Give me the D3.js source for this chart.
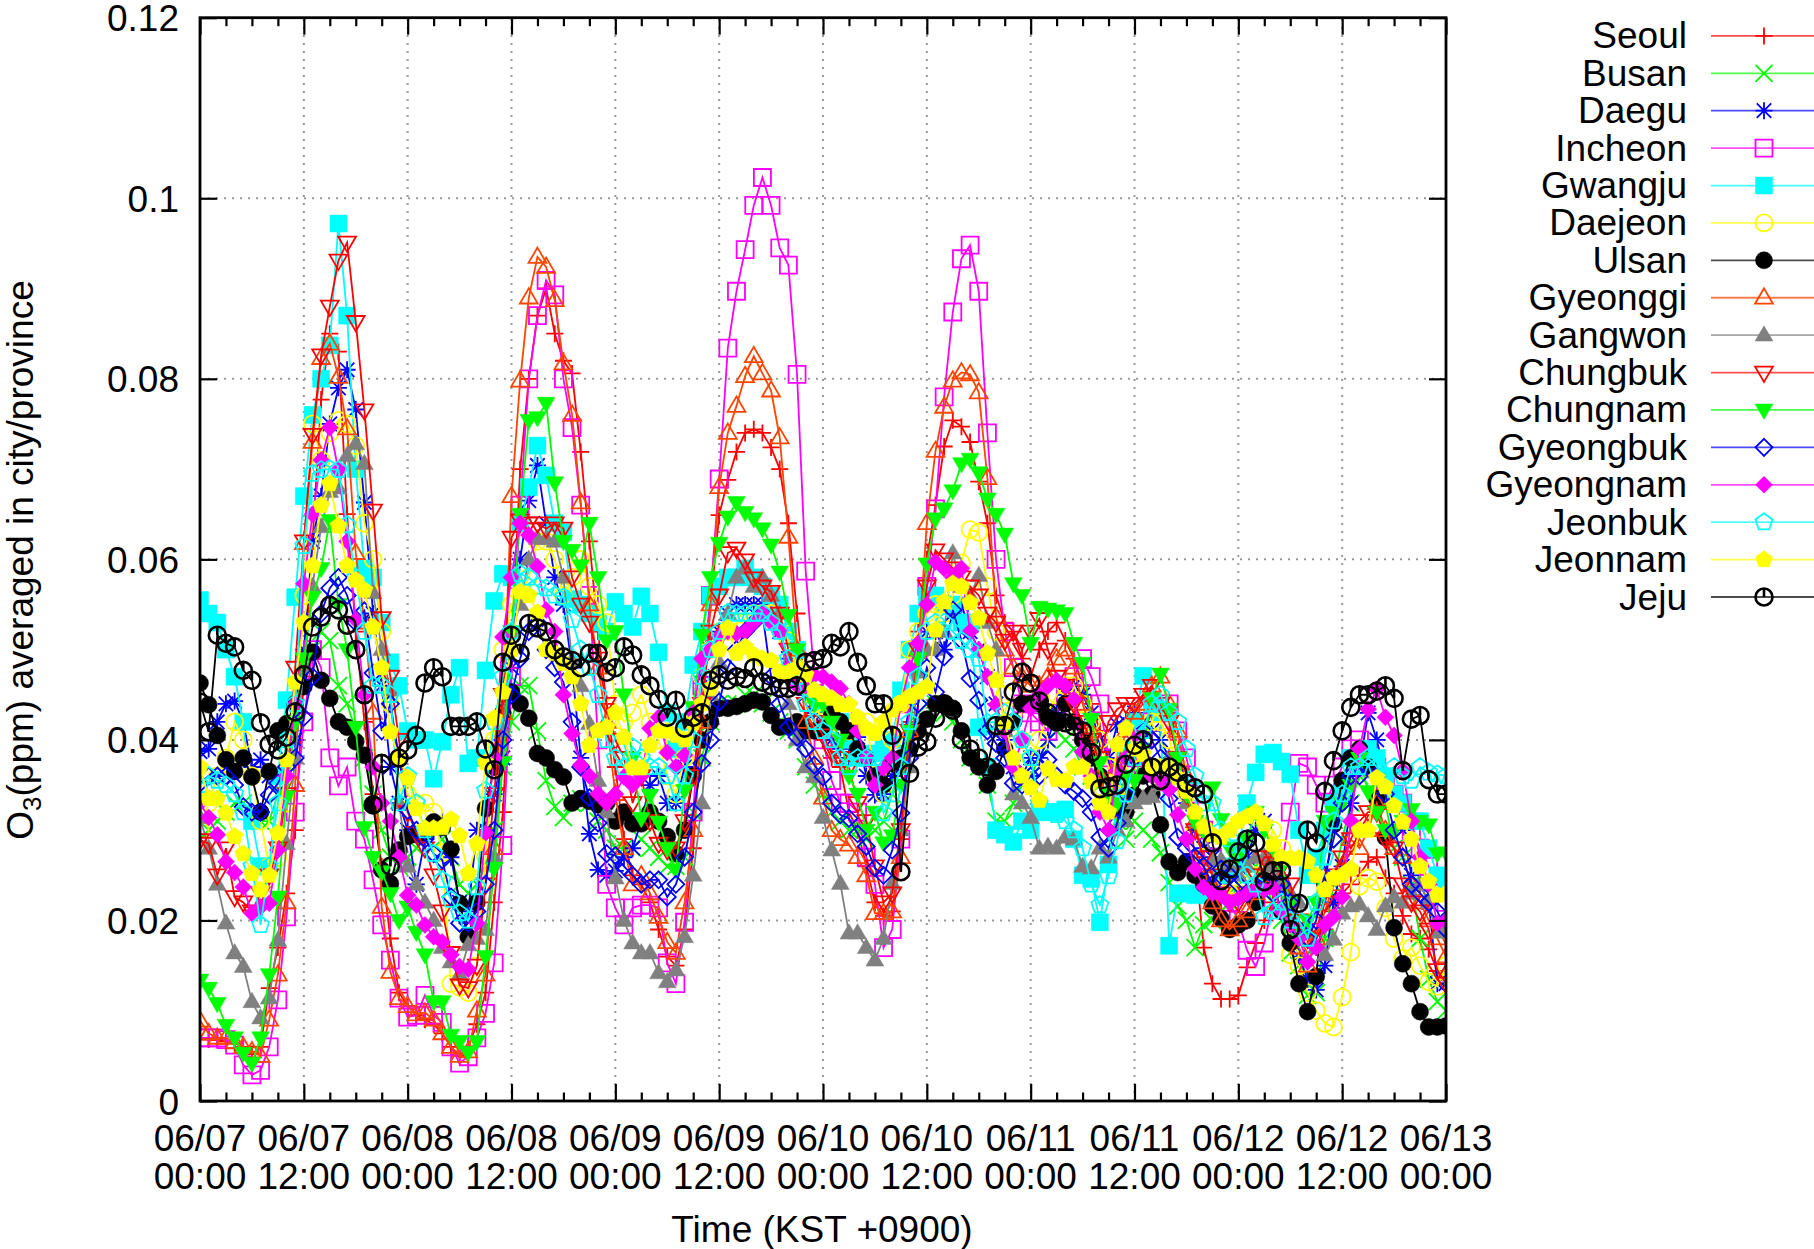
<!DOCTYPE html>
<html>
<head>
<meta charset="utf-8">
<script src="https://cdn.jsdelivr.net/npm/d3@7"></script>
<style>
  body { margin: 0; background: #fff; }
  text { font-family: "Liberation Sans", Arial, sans-serif; font-size: 37px; fill: #000; }
</style>
</head>
<body>
<div class="chart"></div>
<script>
// hourly values in ppb, 06/07 00:00 to 06/13 00:00
const seoul = [
  7,6.8,6.8,6.6,6.4,6,5.2,6,12.5,17,23,30,
  47,62,77.7,85,83,65,52,42,34,26,18,12,
  10.5,9.5,9,8.5,7.5,6,5,6,8.5,12,22,32,
  50,70,80,87,90,85,82,80.6,71.9,62,52,44,
  37,29,25,24,22,19,16,15,19,28,42,55,
  64.9,68.8,71.9,74,74.4,74,72.4,70,64,54,45,43,
  40,38,37,32,30,26,22,20.5,21,29,42,52,
  60,66,72.5,75.4,74.7,73,68.6,64,56,53,52,49,
  47,50,52,53,51,49,46,44,41,38,32,34,
  38,41,43,44,43,40,34,27,17,13,11.3,11.3,
  11.7,14.8,17.5,20,22,24,22,19,18,17,19,21,
  23,24,25,26.5,27,24.7,23,20.5,18.5,18,16.8,14.4,
  13]
const busan = [
  29,30,31,32,33,33,32,31,31,34,38,43,
  47,50,52,51,46,44,41,38,34,30,27,26,
  27,28,30,30,29,27,24,23,24,26,30,37,
  42,46,46,41,35.5,32.6,31.4,33,33.5,33,31,30,
  28,28,28,29,28,27,26,26,27,32,38,42,
  44,44,44,45,45,44,43,42,41,40,37,35,
  34,32,31,30,30,29,30,31,34,38,41,43,
  44,44,43,42,40,38,37,35,31,31,33,35,
  36,38,40,41,40,39,37,36,35,33,31,29,
  31,30,29,27.5,24.2,21.6,20,17,19.5,20,21,22,
  24,25,26,24,22,20,16.4,15,11.7,12,18,24,
  29,33,36,37,35,33,28,27,24,18,13.5,11,
  10]
const daegu = [
  38.7,39,42,44,44.3,42,37,37.8,36,36,38,40,
  50,62,67,75,79,81,76.6,66.3,54,46,37,33,
  30,24,29,30,31,27,22,21,30,30,34,38,
  48,60,66.5,70.4,64,58,55,48,38,29.6,25.6,25,
  25.5,27,28,31,35,36,33,33,37,42,47,50,
  52,54,55,55,55,55,54,52,49,47,45,43,
  41,40,39,38,40.3,36,33.9,34,36,38,44,50,
  52,52,50,54,55,52,50,47,44,40,37,36,
  38,38,40,43,45,46,45,43,40,38,41.7,42,
  43,42,41,40,38,36,33,30,28,27,25,25,
  26,27,30,31,27,24,20,16,13.5,12.3,15,22,
  26,33,37,43,40,36,34,30,25,24,22,13,
  13]
const incheon = [
  7,7,7,6.8,6.2,4,2.9,3.4,6,11.2,20.4,32,
  42,50,48,38,34.9,37,31,29,24.5,19.5,15.6,11.4,
  9.3,9.5,11.7,9.5,8.7,6,4.2,4.9,7,9.7,15.3,28.3,
  47,66,80,87,90.9,89.3,80,74.6,66,56,40,24,
  21.4,19.5,21.4,21.7,21.7,21.4,15.3,13,19.8,32,46,56,
  68.9,83.4,89.7,94.3,99.2,102.3,99.2,94.5,92.6,80.5,58.7,47,
  40,35.5,33,33,32,27,24,17,19,29,44,50,
  57,65.6,78,87.4,93.3,94.8,89.7,74,60,52,48,44,
  43,42,41,43,45,47,49,47,44,38,36,37,
  38,40,42,43,44,41,38,34,30,27,25,22,
  20,16.7,14.9,17.5,22,26,32,37.4,37,35,33,35,
  37,39,40,37,37,35,34,33,30,28,26,24,
  22]
const gwangju = [
  55.5,54,53,50,47,42,31,26,26,36,44.4,55.8,
  67,76,80,83.7,97.2,87,70,59,58,53,48.6,46,
  41,40,40,35.7,39.8,45,48,37.4,38,47.7,55.4,58.4,
  58,64,68,72.6,69.3,64,63,55.6,55,54,53,52,
  55.3,54,52.5,55.9,54,49.7,43,39,42,48.3,52,56,
  57,58,58,59,58,57,56,55,52,50,47,45,
  44,43,42,40,38,38,38.5,39,40,45.5,50,54,
  56,56,55,55,53,53,41.4,37,30,29.5,28.7,31,
  30,32,32,32,32.3,29,25,24.6,19.8,26.2,33,39,
  42,47.1,44,43,17.2,23,23,22.8,23,23,25,26,
  28,33,36.4,38.4,38.6,37.6,36.2,30,25,27,30,33,
  35,38,37,39,38,36,34,33,31,31,28,25,
  24]
const daejeon = [
  30,33,36,38,42,40,36,31,26,27,33,42,
  56,75,71,74,75.4,75,72.6,64,60,52,44,38,
  34,33,33,32,27.5,13,12.6,12,15,27,40,50,
  55,56,58,62,62,60,56,58,60,57,55,53,
  44,42,43,45,42,40,36,34,38,42,47,50,
  52,52,53,53,54,54,54,53,51,48,46,44,
  42,42,41,41,42,42,36,34,40,44,50,52,
  54,55,54,56,59.6,63.3,63,57,52,45,43,40,
  38,40,43,45,46,46,44,42,40,37,34,34,
  37,40,42,42,40,37,34,30,27,25,23,23,
  23,24,25,27,30,28,16.2,15,12,10,8.6,8.2,
  11.5,16.5,23.8,24.7,24.3,21.4,18,15.8,17,15,13.2,12.7,
  15]
const ulsan = [
  46.3,43.9,40.5,37.8,36.5,38,35.9,32,36.5,41,41.8,44,
  45.9,49.7,46.6,44.6,42,41.4,39.8,38.3,32.8,25.6,24.1,27.8,
  29.3,29.5,29.8,30.9,30.3,27.9,21.9,18.2,22,32.4,37,43,
  45.3,44,42.4,38.5,38,36.7,35.9,33,33.5,33.2,32.8,33,
  31,32,30.7,30.7,32,31,29.3,27.4,30,36,40,42,
  43.5,43.5,43.7,44,44.4,44.2,42.7,41.4,41.5,42,41,41,
  41.3,43,42,41,39,38,36,35,37.4,38,39,41,
  42.3,44,44,43.5,41,38,37,35,36.5,39,42,44,
  44,44,42.5,42,44,42,40,38,36,33,32.5,32,
  33.9,36,34,30.6,26.5,25.3,26.5,25,24,21.6,20.2,19,
  19.5,20,22,24.5,24,21,17.5,13,9.9,13.8,24,30.6,
  35.5,38,39,37,33.5,29.2,19.2,15.2,13,9.9,8.2,8.2,
  8.3]
const gyeonggi = [
  8.9,7.5,7,7,6.5,6,5.5,5,9,14,22,35,
  61.8,73,82.3,83.9,80.2,74.5,60.7,53,43,21.5,14.3,11.4,
  10.5,9.6,9.8,9,7.5,6,5,5.5,10,14,28,43,
  67,79.8,89,93.5,92.4,88.7,81.7,76,66.3,55,48,42,
  34,28,24,25,23,20.4,17.6,16.4,22,30,42,55,
  68,74,77,80.3,82.5,80.6,78.7,73.5,62.5,50,42,38,
  33.6,30,29,28.4,27,25,20.8,20.8,21,27,41,50,
  64,72,76.9,79.8,80.7,80.5,78.5,69,53.6,50,48,47,
  46,46,47,49,50,48,44,41,36,33,37,41,
  43,44,46,47,44,41,36,31,26,22,20,19,
  20,21,23,25,27,24,21,17,15,18,21,24,
  26,29,28,30,33,30,28,27,24,22,20,18,
  16]
const gangwon = [
  31.4,28,24,19.7,16.4,14.9,11,9.2,11.4,17.8,28.5,38,
  48,57,63.6,67.5,67.9,71.5,72.8,70.6,56.3,50,45.5,33,
  26,24,22,20,17,15.4,14,17.3,18,19,27,41,
  52,55,60,62.3,62.3,62,58,48.8,46,41.8,35.5,32,
  24.7,20,17.5,16.4,16.4,14.2,13.2,14.5,18.2,25,33,45,
  48.6,54,58,59,57,58,56,54,44,40,37,35.9,
  31.4,27.8,24.1,18.6,18.6,17,15.6,18,24.1,30,37,47.5,
  50,50,52,60.7,57,56,58.2,53,50,41,34,33,
  31.4,28,28.2,28,29.2,29,26,25.8,28,27,30,31,
  33,33.5,33.7,35,38,36,33,31,30,26.7,26.7,26,
  25,26,27,27,26,24,23,22,19,17,16.2,17.9,
  20.8,21.6,21.8,20.5,19,21.6,22.6,22,23,24,22,18.7,
  19]
const chungbuk = [
  28.9,28.5,25,28,22.6,22,21,23,25,28,34,48,
  62,73.8,82.6,88,93.1,95.1,86.3,76.5,65.4,53.5,47,40,
  32,29.7,28,25,21,16.4,12.8,12.5,15,24,34,45,
  62.4,64.3,64,64,63.4,64,63.4,58,55,53,49,44,
  40,38,33,36,31,28.5,27.8,28,31,36,44,52,
  56,60.7,61.2,59.9,57.9,57,56.4,54,50,47,44,42,
  40.5,38.6,38,37,33,31,26,22,23,30,41,50,
  57,61,60,59,58,57,56,54,53,51,52,50,
  52,53.4,50,47,46,44,42,40,38,42,43.4,44,
  44,45,46,44,42,38,34,30,27,25,23,22,
  22,23,25,27,27,26,24,20,18,19,22,25,
  27,29,31,32,32,29,28,24,22,21,19,14.5,
  13]
const chungnam = [
  13.4,12.5,10.8,8.4,7,5.3,4.2,7,14,22.6,33.7,42,
  49,55.8,59,64.3,55,50,41.4,30.3,27,25.4,23,20,
  21.5,18.7,16.2,11,11,7.3,6.6,5.4,6.6,16,25.8,37.5,
  52,65,75.4,75.7,77.3,68.5,62,61,59.3,64,58,51,
  52,45,38,31.3,33.9,30.9,28,25.6,34.4,43.6,51.6,58,
  61.8,64.7,66.3,65.2,64.5,63.4,61.6,58.6,53.8,50,46,44,
  44,42,40,36,34,30,32,28.6,29.4,35,41,49,
  59.5,64.5,65.6,67.6,70.6,71.1,69.6,66.7,65,62.8,57.3,56,
  50.7,54.7,54.5,54.3,54,50.7,48.5,42.3,37.5,34,33,36,
  35.5,39,44.6,47.3,43.4,38,34,31,30,34.7,31.2,28,
  27,29,32,30,28,26,22,18,20,22,31,32,
  33,35,38,34.3,32,30,30,31,32.3,31,30.6,27.4,
  27.5]
const gyeongbuk = [
  35.2,36,36,36,35,32.6,32,32,33.9,35.2,37,38,
  42.5,47,54,56.8,58,56,53,54.3,47.4,41,44,38,
  32.2,30,29,27.4,26.7,22.6,19.7,19.7,21,24,30,40,
  45,49,52,53,50,48,46.4,42,37,33.6,30.8,27.4,
  27.2,26,25,24,24.5,24.5,22.6,24,27,32,37.4,40,
  44.2,48,50,52,53,54,47,44,41.4,40.3,39,37.2,
  35.9,33,31.7,31.3,29.6,28.2,25.8,25,27.8,31.9,38,44,
  48,45.3,49.2,54.4,51,46.8,44.4,41,39.6,38,35.2,35,
  36,36,37.8,36,35,34.3,33.5,32,29.2,28,30.8,34,
  38,41,40,38,33.5,29.2,28,27,26,24,25.7,25,
  24,23,24,24,23,24,22,19,18,20,25,29,
  33,36,36,37,36,34,30,27,24,23,22,21,
  19]
const gyeongnam = [
  33,31.4,29.5,26.5,25.3,23.7,20.8,21.5,21.9,27.8,36,44,
  57.3,65,71,74.6,69.9,62,53.3,45,37,33,31,27,
  22.8,21.7,19.5,18.2,17.6,16.2,14.9,14.6,19.7,29.7,38,51.4,
  58,64,62.7,59.2,54.4,52,45,40.7,37.2,36,34,33,
  34,35.9,35,36,41.3,42.5,38.6,37,38.3,43,49,50,
  51.4,52,51.8,52,53,54,53,52,48,46,46,47.2,
  47,46.4,45.7,44,41,38,35,36.9,38,44,48,50.7,
  55,59.7,59,58,59,52,50,47,43.9,41,37,40,
  43.5,45,46,46.6,46,44.5,38.7,36,32,30,36.6,38,
  40.5,38,36,35.6,34.5,31.7,29,25.7,23.7,23,22.8,22,
  22.4,23,23.4,23.4,23.6,21,19.5,18,15.4,17,19.5,20.4,
  22.6,31,39,43.4,45.6,42.5,40.5,36.6,31,27,24,19.7,
  20]
const jeonbuk = [
  35,36,35.5,35,34,32,26,19.5,26,33,40,44,
  61.5,69.5,69.9,70,69.9,63.8,58,52,46,46,45,33,
  36,33,30,27.4,24.5,22.3,20.8,20,23.7,34.4,42,47,
  52,58.4,58,57,56.8,56,55.8,53.3,50,48,45,40,
  38,37,39.2,38,37,37,36,33,36,40,47,50,
  52,54.1,54,54,54,54,53,52,49,47,44,42,
  41,40,38,37,38,38,38,31.9,34,37,42,47,
  52,53,53,52,51,50,49,41.9,42,43,42,40,
  38,33,32,31.7,31,30,28,24,21.7,24.9,28.8,34,
  38,41,44,45,43,42,39,36,33,33,30,29,
  27,25,24,20.4,21,22,20,20,18,22,27,31,
  34,37,37,38,37,36,37,36,35.5,37,36.4,36.2,
  36]
const jeonnam = [
  37,33.5,33.5,31.9,29.3,27.4,25.2,23.4,25,29.7,37.8,46.4,
  53,59.3,66,68.4,63.7,59.3,57.7,56.6,52.5,48,40.9,38,
  35.8,32.4,30.2,30.2,30.3,31.2,29.4,25.2,28.5,37.5,42.4,45.3,
  50,56.4,56,54.1,50,49.6,48.5,47,44,39.4,41,41.4,
  43,40.3,36.9,36.9,39.4,41,41,40.5,40,41.9,44,45.7,
  50,52.4,49.6,50.3,49.4,49,48.8,47.5,47.5,48,47.2,45.5,
  45,44.6,43.9,43.9,42.5,41.3,40.7,42,43.3,44,44.8,45.3,
  45.9,52.2,55.3,57.3,57,55.2,53.5,49.6,46.6,42,38,36,
  34.7,33.3,36.8,35.6,35.5,37,37,35.4,33,32,39.5,41.3,
  39,38.4,37,37,37,35.8,34.3,32,30.4,29.5,29.2,30,
  31,31.5,32,30.7,28.4,27,26.9,26.9,26.5,25,23.4,24.7,
  25,25.7,30,30,35.8,34.8,32.7,30.9,29,26,24.3,22.8,
  23]
const jeju = [
  44.2,40.9,51.6,50.7,50.3,47.7,46.6,41.9,39.5,38.9,40.3,43.1,
  47.2,52.5,53.6,54.9,54.4,52.7,50,45,32.8,37.4,26,38,
  38.9,40.5,46.3,48,47,41.5,41.5,41.5,42,39,36.7,48.6,
  51.6,49.6,52.9,52.4,52,50,49.2,48.8,48,49.6,49.6,47.5,
  48,50.3,49.4,47.2,46,44.5,42.5,44.4,41.3,42.5,43,46.6,
  47.2,46.6,47,46.8,48,46.4,46,45.7,45.7,46,48.6,48.8,
  49,50.7,50.3,52,48.6,46,44,44,40.5,25.4,36.3,39.2,
  39.8,42.4,44,43.3,40,39,38,37,41.6,41.6,45.3,47.5,
  46.3,44.3,43,42,41.9,41.5,41,38.6,34.6,34.8,35,37.3,
  39.4,40,37,35.5,37,36.4,35.2,34.7,34,28.6,24.4,25.7,
  27.6,29,28.6,24.3,25.5,25.5,19,21.9,30,28.6,34.3,37.7,
  41,43.6,45,45,45.4,46,44.6,36.6,42.3,42.7,35.6,34,
  34]

const seriesNames = ['Seoul', 'Busan', 'Daegu', 'Incheon', 'Gwangju', 'Daejeon', 'Ulsan', 'Gyeonggi', 'Gangwon', 'Chungbuk', 'Chungnam', 'Gyeongbuk', 'Gyeongnam', 'Jeonbuk', 'Jeonnam', 'Jeju']
const seriesValues = [seoul, busan, daegu, incheon, gwangju, daejeon, ulsan, gyeonggi, gangwon, chungbuk, chungnam, gyeongbuk, gyeongnam, jeonbuk, jeonnam, jeju]
const seriesColors = ['#ff0000', '#00ff00', '#0000ff', '#ff00ff', '#00ffff', '#ffff00', '#000000', '#ff4500', '#808080', '#ff0000', '#00ff00', '#0000ff', '#ff00ff', '#00ffff', '#ffff00', '#000000']
const seriesMarkers = ['plus', 'cross', 'star', 'box', 'boxF', 'circle', 'circleF', 'tri', 'triF', 'inv', 'invF', 'dia', 'diaF', 'pent', 'pentF', 'jeju']

const yTicks = [0, 0.02, 0.04, 0.06, 0.08, 0.1, 0.12]
const yTickLabels = ['0', '0.02', '0.04', '0.06', '0.08', '0.1', '0.12']
const xTicks = [0, 12, 24, 36, 48, 60, 72, 84, 96, 108, 120, 132, 144]
const xDates = ['06/07', '06/07', '06/08', '06/08', '06/09', '06/09', '06/10', '06/10', '06/11', '06/11', '06/12', '06/12', '06/13']
const xTimes = ['00:00', '12:00', '00:00', '12:00', '00:00', '12:00', '00:00', '12:00', '00:00', '12:00', '00:00', '12:00', '00:00']

const width = 1814
const height = 1249
const plotLeft = 200
const plotRight = 1446
const plotTop = 17.7
const plotBottom = 1101

const x = d3.scaleLinear().domain([0, 144]).range([plotLeft, plotRight])
const y = d3.scaleLinear().domain([0, 0.12]).range([plotBottom, plotTop])

const svg = d3.select('.chart').append('svg')
  .attr('width', width)
  .attr('height', height)
  .style('display', 'block')

svg.append('defs').append('clipPath').attr('id', 'plot')
  .append('rect')
  .attr('x', plotLeft).attr('y', plotTop)
  .attr('width', plotRight - plotLeft).attr('height', plotBottom - plotTop)

// Grid
const grid = svg.append('g')
  .attr('stroke', '#999999')
  .attr('stroke-width', 2)
  .attr('stroke-dasharray', '2,6')
grid.selectAll('.gx').data(xTicks.slice(1, -1)).enter().append('line')
  .attr('x1', d => x(d)).attr('x2', d => x(d))
  .attr('y1', plotBottom).attr('y2', plotTop)
grid.selectAll('.gy').data(yTicks.slice(1, -1)).enter().append('line')
  .attr('x1', plotLeft).attr('x2', plotRight)
  .attr('y1', d => y(d)).attr('y2', d => y(d))

// Marker shapes, centred on 0,0
function markerPath (kind) {
  const p = d3.path()
  const r = 8.5
  const poly = pts => {
    pts.forEach((q, i) => (i ? p.lineTo(q[0], q[1]) : p.moveTo(q[0], q[1])))
    p.closePath()
  }
  const plus = () => { p.moveTo(-r, 0); p.lineTo(r, 0); p.moveTo(0, -r); p.lineTo(0, r) }
  const cross = () => { p.moveTo(-r, -r); p.lineTo(r, r); p.moveTo(-r, r); p.lineTo(r, -r) }
  if (kind === 'plus') plus()
  if (kind === 'cross') cross()
  if (kind === 'star') { plus(); const k = r * 0.85; p.moveTo(-k, -k); p.lineTo(k, k); p.moveTo(-k, k); p.lineTo(k, -k) }
  if (kind.startsWith('box')) poly([[-r, -r], [r, -r], [r, r], [-r, r]])
  if (kind.startsWith('circle')) { p.moveTo(r, 0); p.arc(0, 0, r, 0, 2 * Math.PI) }
  if (kind.startsWith('tri')) poly([[0, -r * 1.1], [r * 1.05, r * 0.7], [-r * 1.05, r * 0.7]])
  if (kind.startsWith('inv')) poly([[0, r * 1.1], [r * 1.05, -r * 0.7], [-r * 1.05, -r * 0.7]])
  if (kind.startsWith('dia')) poly([[0, -r], [r, 0], [0, r], [-r, 0]])
  if (kind.startsWith('pent')) {
    const rp = r * 1.05
    poly(d3.range(5).map(i => [rp * Math.sin(i * 2 * Math.PI / 5), -rp * Math.cos(i * 2 * Math.PI / 5)]))
  }
  if (kind === 'jeju') { p.moveTo(r, 0); p.arc(0, 0, r, 0, 2 * Math.PI); p.moveTo(0, 0); p.lineTo(0, -r) }
  return p.toString()
}

const isFilled = kind => kind.endsWith('F')

function drawMarker (sel, kind, color) {
  sel.attr('d', markerPath(kind))
    .attr('fill', isFilled(kind) ? color : 'none')
    .attr('stroke', color)
    .attr('stroke-width', kind === 'jeju' ? 2.6 : (isFilled(kind) ? 0.5 : 1.8))
}

// Series
const line = d3.line().x((d, i) => x(i)).y(d => y(d / 1000))
const plot = svg.append('g').attr('clip-path', 'url(#plot)')

seriesNames.forEach((name, s) => {
  const group = plot.append('g')
  group.append('path')
    .datum(seriesValues[s])
    .attr('d', line)
    .attr('fill', 'none')
    .attr('stroke', seriesColors[s])
    .attr('stroke-width', 1.8)
  group.selectAll('path.m').data(seriesValues[s]).enter().append('path')
    .attr('class', 'm')
    .call(drawMarker, seriesMarkers[s], seriesColors[s])
    .attr('transform', (d, i) => `translate(${x(i)},${y(d / 1000)})`)
})

// Axes, with mirror ticks on top and right
const xMinor = d3.range(0, 145, 3).filter(h => h % 12 !== 0)

const xAxis = svg.append('g').attr('transform', `translate(0,${plotBottom})`)
  .call(d3.axisBottom(x).tickValues(xTicks).tickSize(-17).tickFormat(''))
const yAxis = svg.append('g').attr('transform', `translate(${plotLeft},0)`)
  .call(d3.axisLeft(y).tickValues(yTicks).tickSize(-17).tickFormat(''))
const xTop = svg.append('g').attr('transform', `translate(0,${plotTop})`)
  .call(d3.axisTop(x).tickValues(xTicks).tickSize(-17).tickFormat(''))
const yRight = svg.append('g').attr('transform', `translate(${plotRight},0)`)
  .call(d3.axisRight(y).tickValues(yTicks).tickSize(-17).tickFormat(''))
const xMinorBottom = svg.append('g').attr('transform', `translate(0,${plotBottom})`)
  .call(d3.axisBottom(x).tickValues(xMinor).tickSize(-8.5).tickFormat(''))
const xMinorTop = svg.append('g').attr('transform', `translate(0,${plotTop})`)
  .call(d3.axisTop(x).tickValues(xMinor).tickSize(-8.5).tickFormat(''))

;[xAxis, yAxis, xTop, yRight, xMinorBottom, xMinorTop].forEach(a => {
  a.select('.domain').remove()
  a.selectAll('line').attr('stroke', '#000').attr('stroke-width', 2.2)
})

svg.append('rect')
  .attr('x', plotLeft).attr('y', plotTop)
  .attr('width', plotRight - plotLeft).attr('height', plotBottom - plotTop)
  .attr('fill', 'none')
  .attr('stroke', '#000')
  .attr('stroke-width', 2.8)

// Tick labels
svg.selectAll('.ylab').data(yTicks).enter().append('text')
  .attr('x', 179)
  .attr('y', d => y(d) + 13.5)
  .attr('text-anchor', 'end')
  .text((d, i) => yTickLabels[i])

svg.selectAll('.xdate').data(xTicks).enter().append('text')
  .attr('x', d => x(d))
  .attr('y', 1150.5)
  .attr('text-anchor', 'middle')
  .text((d, i) => xDates[i])
svg.selectAll('.xtime').data(xTicks).enter().append('text')
  .attr('x', d => x(d))
  .attr('y', 1188.5)
  .attr('text-anchor', 'middle')
  .text((d, i) => xTimes[i])

// Axis titles
svg.append('text')
  .attr('x', 822).attr('y', 1241.5)
  .attr('text-anchor', 'middle')
  .text('Time (KST +0900)')

const yTitle = svg.append('text')
  .attr('transform', 'translate(33,560) rotate(-90)')
  .attr('text-anchor', 'middle')
yTitle.append('tspan').text('O')
yTitle.append('tspan').text('3').attr('dy', 8).style('font-size', '26px')
yTitle.append('tspan').text('(ppm) averaged in city/province').attr('dy', -8)

// Legend
const legendY = d3.scaleLinear().domain([0, 15]).range([35.9, 597])
const legend = svg.append('g')
seriesNames.forEach((name, s) => {
  const ly = legendY(s)
  legend.append('text')
    .attr('x', 1687).attr('y', ly + 12.5)
    .attr('text-anchor', 'end')
    .text(name)
  legend.append('line')
    .attr('x1', 1711).attr('x2', width)
    .attr('y1', ly).attr('y2', ly)
    .attr('stroke', seriesColors[s])
    .attr('stroke-width', 1.8)
    .attr('stroke-opacity', 0.7)
  legend.append('path')
    .call(drawMarker, seriesMarkers[s], seriesColors[s])
    .attr('transform', `translate(1764,${ly})`)
})
</script>
</body>
</html>
